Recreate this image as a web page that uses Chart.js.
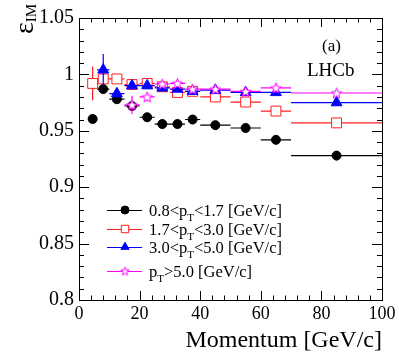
<!DOCTYPE html>
<html><head><meta charset="utf-8">
<script src="https://cdn.jsdelivr.net/npm/chart.js@4.4.1/dist/chart.umd.min.js"></script>
<style>html,body{margin:0;padding:0;background:#fff;} canvas{display:block;}</style>
</head><body>
<canvas id="c" width="399" height="359"></canvas>
<script>
// ---- data ----
const binCenter = [4.5, 8, 12.5, 17.5, 22.5, 27.5, 32.5, 37.5, 45, 55, 65, 85];
const binLow    = [3, 6, 10, 15, 20, 25, 30, 35, 40, 50, 60, 70];
const binHigh   = [6, 10, 15, 20, 25, 30, 35, 40, 50, 60, 70, 100];

const effPt08 = [0.9605, 0.987, 0.978, 0.972, 0.962, 0.956, 0.956, 0.960, 0.955, 0.9525, 0.942, 0.928];
const errPt08 = [0.002, 0.002, 0.002, 0.002, 0.002, 0.002, 0.002, 0.002, 0.002, 0.002, 0.003, 0.004];

const effPt17 = [0.992, 0.996, 0.996, 0.991, 0.992, 0.989, 0.984, 0.985, 0.980, 0.9755, 0.9675, 0.957];
const errPt17 = [0.015, 0.003, 0.002, 0.002, 0.002, 0.002, 0.002, 0.002, 0.002, 0.002, 0.002, 0.002];

const effPt30 = [null, 1.004, 0.983, 0.990, 0.990, 0.988, 0.987, 0.985, 0.986, 0.984, 0.984, 0.975];
const errPt30 = [null, 0.014, 0.004, 0.003, 0.002, 0.002, 0.002, 0.002, 0.002, 0.002, 0.002, 0.002];

const effPt50 = [null, null, null, 0.973, 0.980, 0.9915, 0.992, 0.987, 0.987, 0.985, 0.988, 0.9835];
const errPt50 = [null, null, null, 0.008, 0.004, 0.003, 0.003, 0.003, 0.003, 0.003, 0.004, 0.003];

const legendLabels = [
  ['0.8<p', 'T', '<1.7 [GeV/c]'],
  ['1.7<p', 'T', '<3.0 [GeV/c]'],
  ['3.0<p', 'T', '<5.0 [GeV/c]'],
  ['p', 'T', '>5.0 [GeV/c]']
];
const xTitle = 'Momentum [GeV/c]';
const yTitleMain = 'ε';
const yTitleSub = 'IM';
const expLabel = 'LHCb';
const panelLabel = '(a)';

// ---- helpers ----
const SERIF = '"Liberation Serif", "DejaVu Serif", serif';
function makeStar(size, color) {
  const c = document.createElement('canvas'); c.width = c.height = size;
  const g = c.getContext('2d');
  const cx = size / 2, cy = size / 2 + 0.5, R = size / 2 - 1, r = R * 0.42;
  g.beginPath();
  for (let i = 0; i < 10; i++) {
    const a = -Math.PI / 2 + i * Math.PI / 5, rr = i % 2 ? r : R;
    g.lineTo(cx + rr * Math.cos(a), cy + rr * Math.sin(a));
  }
  g.closePath(); g.fillStyle = '#fff'; g.fill();
  g.strokeStyle = color; g.lineWidth = 1; g.stroke();
  return c;
}
function pts(vals, errs) {
  return binCenter.map((x, i) => vals[i] == null ? null :
    {x: x, y: vals[i], xl: binLow[i], xh: binHigh[i], e: errs[i]}).filter(Boolean);
}
const starImg = makeStar(13, '#ff00ff');
const starImgSmall = makeStar(11, '#ff00ff');

const datasets = [
  {label: 'a', data: pts(effPt08, errPt08), pointStyle: 'circle', pointRadius: 4.5,
   backgroundColor: '#000', borderColor: '#000', borderWidth: 1, order: 4, errColor: '#000'},
  {label: 'b', data: pts(effPt17, errPt17), pointStyle: 'rect', pointRadius: 7,
   backgroundColor: '#fff', borderColor: '#ff2020', borderWidth: 1, order: 3, errColor: '#ff2020'},
  {label: 'c', data: pts(effPt30, errPt30), pointStyle: 'triangle', pointRadius: 6.3,
   backgroundColor: '#0000ff', borderColor: '#0000ff', borderWidth: 1, order: 2, errColor: '#0000ff'},
  {label: 'd', data: pts(effPt50, errPt50), pointStyle: starImg, pointRadius: 7,
   backgroundColor: '#fff', borderColor: '#ff00ff', borderWidth: 1, order: 1, errColor: '#ff00ff'}
];
datasets.forEach(d => { d.showLine = false; d.pointHoverRadius = d.pointRadius; });

const errorBars = {
  id: 'errorBars',
  beforeDatasetDraw(chart, args) {
    const ds = chart.data.datasets[args.index];
    const xs = chart.scales.x, ys = chart.scales.y, ctx = chart.ctx;
    ctx.save();
    ctx.strokeStyle = ds.errColor; ctx.lineWidth = 1.2;
    ctx.beginPath();
    ds.data.forEach(p => {
      const px = xs.getPixelForValue(p.x), py = ys.getPixelForValue(p.y);
      ctx.moveTo(xs.getPixelForValue(p.xl), py); ctx.lineTo(xs.getPixelForValue(p.xh), py);
      ctx.moveTo(px, ys.getPixelForValue(p.y - p.e)); ctx.lineTo(px, ys.getPixelForValue(p.y + p.e));
    });
    ctx.stroke();
    ctx.restore();
  }
};

const frameAndDecor = {
  id: 'frameAndDecor',
  afterDraw(chart) {
    const ctx = chart.ctx, a = chart.chartArea, xs = chart.scales.x, ys = chart.scales.y;
    ctx.save();
    ctx.strokeStyle = '#000'; ctx.lineWidth = 1;
    ctx.strokeRect(Math.round(a.left) + 0.5, Math.round(a.top) + 0.5,
                   Math.round(a.right - a.left), Math.round(a.bottom - a.top));
    ctx.beginPath();
    for (let v = 0; v <= 100.001; v += 4) {
      const x = Math.round(xs.getPixelForValue(v)) + 0.5;
      const L = (Math.abs(v % 20) < 1e-6) ? 9 : 4.5;
      ctx.moveTo(x, a.bottom); ctx.lineTo(x, a.bottom - L);
      ctx.moveTo(x, a.top); ctx.lineTo(x, a.top + L);
    }
    for (let k = 0; k <= 25; k++) {
      const v = 0.8 + k * 0.01;
      const y = Math.round(ys.getPixelForValue(v)) + 0.5;
      const L = (k % 5 === 0) ? 10 : 5;
      ctx.moveTo(a.left, y); ctx.lineTo(a.left + L, y);
      ctx.moveTo(a.right, y); ctx.lineTo(a.right - L, y);
    }
    ctx.stroke();

    // y title with subscript, rotated
    ctx.fillStyle = '#000';
    ctx.translate(33, 34);
    ctx.rotate(-Math.PI / 2);
    ctx.textBaseline = 'alphabetic'; ctx.textAlign = 'left';
    ctx.font = '28px ' + SERIF;
    ctx.fillText(yTitleMain, 0, 0);
    const w = ctx.measureText(yTitleMain).width;
    ctx.font = '15px ' + SERIF;
    ctx.fillText(yTitleSub, w, 3);
    ctx.setTransform(1, 0, 0, 1, 0, 0);

    // labels
    ctx.font = '19px ' + SERIF;
    ctx.fillText(expLabel, 307, 76);
    ctx.font = '17px ' + SERIF;
    ctx.fillText(panelLabel, 322, 51);

    // legend
    const rowsY = [210, 229, 247, 271];
    const dsets = chart.data.datasets;
    rowsY.forEach((ry, i) => {
      const d = dsets[i];
      ctx.strokeStyle = d.errColor; ctx.lineWidth = 1.2;
      ctx.beginPath(); ctx.moveTo(107, ry + 0.5); ctx.lineTo(142, ry + 0.5); ctx.stroke();
      ctx.fillStyle = d.backgroundColor; ctx.strokeStyle = d.borderColor; ctx.lineWidth = 1;
      const style = i === 3 ? starImgSmall : d.pointStyle;
      Chart.helpers.drawPoint(ctx, {pointStyle: style, radius: i === 0 ? 4 : d.pointRadius * 0.75, rotation: 0, borderWidth: 1}, 125, ry);
      ctx.fillStyle = '#000';
      const parts = legendLabels[i];
      let x = 149;
      ctx.font = '16.5px ' + SERIF;
      ctx.fillText(parts[0], x, ry + 6); x += ctx.measureText(parts[0]).width;
      ctx.font = '11px ' + SERIF;
      ctx.fillText(parts[1], x, ry + 11); x += ctx.measureText(parts[1]).width;
      ctx.font = '16.5px ' + SERIF;
      ctx.fillText(parts[2], x, ry + 6);
    });
    ctx.restore();
  }
};

new Chart(document.getElementById('c'), {
  type: 'scatter',
  data: {datasets: datasets},
  options: {
    responsive: false, animation: false, devicePixelRatio: 1,
    layout: {padding: {top: 18, right: 17, left: 0, bottom: 0}},
    plugins: {legend: {display: false}, tooltip: {enabled: false}},
    scales: {
      x: {
        type: 'linear', min: 0, max: 100,
        grid: {display: false, drawTicks: false}, border: {display: false},
        ticks: {stepSize: 20, color: '#000', padding: 3, maxRotation: 0, autoSkip: false,
                font: {family: SERIF, size: 18}},
        title: {display: true, text: xTitle, align: 'end', color: '#000',
                font: {family: SERIF, size: 24}, padding: {top: 0, bottom: 4}},
        afterFit: s => { s.height = 59; }
      },
      y: {
        type: 'linear', min: 0.8, max: 1.05,
        grid: {display: false, drawTicks: false}, border: {display: false},
        ticks: {stepSize: 0.05, color: '#000', padding: 5, autoSkip: false,
                font: {family: SERIF, size: 20},
                callback: v => String(Number(v.toFixed(2)))},
        afterFit: s => { s.width = 79; }
      }
    }
  },
  plugins: [errorBars, frameAndDecor]
});
</script>
</body></html>
